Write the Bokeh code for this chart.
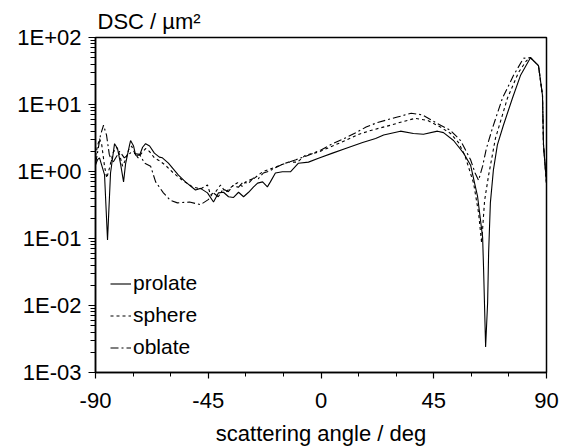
from bokeh.plotting import figure
from bokeh.models import Range1d, FixedTicker, CustomJSTickFormatter, Legend, LegendItem
from bokeh.embed import file_html
from bokeh.resources import INLINE

# ---- data (scattering angle in deg, DSC in um^2) ----
prolate_angle = [-90.0, -89.2, -88.4, -86.4, -85.2, -84.0, -82.4, -81.2, -80.0, -78.8, -78.0, -76.4,
                 -76.0, -74.8, -74.0, -72.4, -71.2, -70.0, -68.4, -66.5, -64.5, -63.3, -60.9, -56.9,
                 -54.1, -50.1, -48.1, -45.3, -42.9, -40.9, -38.9, -36.9, -34.9, -32.9, -30.9, -28.9,
                 -26.9, -25.3, -23.3, -21.4, -20.2, -18.2, -15.4, -12.2, -9.0, -5.0, -1.0, 4.6,
                 9.8, 16.6, 21.8, 25.0, 31.7, 36.9, 40.9, 46.5, 48.9, 52.9, 56.9, 59.7,
                 62.5, 64.5, 64.9, 65.7, 66.5, 66.9, 67.6, 68.8, 70.4, 72.8, 76.4, 79.6,
                 83.6, 86.8, 88.4, 88.8, 90.0]
prolate_dsc = [1.25, 1.5, 1.6, 0.9, 0.095, 0.95, 2.6, 2.2, 1.3, 0.70, 1.3, 2.5,
               2.9, 2.4, 1.75, 1.75, 2.3, 2.6, 2.4, 1.88, 1.64, 1.6, 1.33, 0.88,
               0.70, 0.53, 0.56, 0.48, 0.35, 0.48, 0.49, 0.42, 0.41, 0.49, 0.42, 0.49,
               0.59, 0.67, 0.70, 0.59, 0.70, 0.95, 0.99, 0.99, 1.33, 1.38, 1.58, 1.88,
               2.2, 2.7, 3.1, 3.5, 4.0, 3.7, 3.6, 4.0, 3.8, 2.9, 1.88, 1.24,
               0.42, 0.105, 0.034, 0.0024, 0.011, 0.061, 0.34, 1.05, 2.5, 4.9, 12.4, 27.0,
               50.0, 38.0, 13.7, 2.5, 0.67]

sphere_angle = [-90.0, -89.2, -88.4, -87.5, -86.4, -85.5, -84.5, -83.0, -81.6, -80.4, -79.2, -78.0,
                -76.8, -75.6, -74.4, -73.0, -71.5, -70.0, -68.5, -66.5, -64.5, -62.1, -58.9, -55.3,
                -51.3, -48.0, -45.3, -44.1, -42.0, -40.1, -38.1, -35.5, -33.3, -31.5, -30.1, -26.1,
                -23.3, -20.0, -16.2, -13.0, -9.4, -6.2, -1.0, 4.6, 9.8, 15.2, 19.8, 27.7,
                33.0, 37.5, 42.5, 47.7, 51.7, 54.9, 57.5, 60.9, 62.9, 64.1, 65.3, 66.9,
                69.6, 74.4, 78.8, 82.0, 83.6, 86.8, 88.4, 88.8, 90.0]
sphere_dsc = [1.7, 2.4, 3.1, 2.5, 1.2, 0.8, 1.1, 1.9, 2.3, 1.8, 1.2, 1.5,
              2.1, 2.4, 1.9, 1.6, 1.9, 2.2, 2.0, 1.6, 1.45, 1.24, 0.95, 0.74,
              0.59, 0.55, 0.63, 0.45, 0.50, 0.63, 0.49, 0.60, 0.68, 0.60, 0.70, 0.82,
              0.99, 1.1, 1.24, 1.38, 1.38, 1.75, 1.95, 2.4, 2.9, 3.6, 4.1, 4.9,
              5.6, 6.2, 5.8, 4.6, 3.7, 2.7, 1.7, 0.67, 0.24, 0.086, 0.37, 0.88,
              3.1, 12.4, 30.0, 45.0, 50.0, 38.0, 13.7, 2.5, 0.67]

oblate_angle = [-90.0, -89.2, -88.0, -86.8, -85.6, -84.5, -83.2, -81.5, -80.4, -78.5, -76.0, -72.4,
                -70.4, -68.0, -66.0, -62.9, -60.1, -57.3, -52.5, -48.1, -45.0, -43.0, -41.0, -39.0,
                -37.0, -35.0, -33.0, -31.0, -29.0, -27.0, -25.0, -23.0, -21.0, -18.0, -15.0, -10.0,
                -5.0, 0.0, 4.6, 10.0, 14.5, 18.0, 22.6, 30.5, 36.0, 40.5, 46.5, 51.7,
                55.7, 59.7, 61.5, 62.9, 64.5, 66.0, 68.4, 72.4, 76.8, 80.8, 83.6, 86.8,
                88.4, 88.8, 90.0]
oblate_dsc = [1.3, 1.9, 3.5, 4.9, 3.5, 1.8, 1.33, 1.7, 2.0, 1.6, 1.9, 1.8,
              1.33, 1.2, 0.70, 0.48, 0.37, 0.34, 0.35, 0.32, 0.38, 0.48, 0.42, 0.55,
              0.50, 0.62, 0.58, 0.70, 0.66, 0.80, 0.78, 0.95, 1.0, 1.15, 1.3, 1.5,
              1.75, 2.1, 2.6, 3.2, 3.9, 4.6, 5.4, 6.5, 7.4, 7.0, 5.2, 4.1,
              2.9, 1.5, 0.95, 0.74, 1.2, 2.2, 4.4, 12.4, 27.0, 49.0, 50.0, 38.0,
              13.7, 2.5, 0.67]

x_major = [-90, -45, 0, 45, 90]
x_minor = [-75, -60, -30, -15, 15, 30, 60, 75]
y_major = [1e-3, 1e-2, 1e-1, 1e0, 1e1, 1e2]
y_minor = [m * 10.0 ** k for k in range(-3, 2) for m in range(2, 10)]

FONT = "Liberation Sans"
FS = "22px"

p = figure(width=570, height=448, y_axis_type="log",
           x_range=Range1d(-90, 90), y_range=Range1d(1e-3, 1e2),
           output_backend="svg", toolbar_location=None,
           min_border_left=95, min_border_right=24, min_border_bottom=75, min_border_top=37)

p.title.text = "DSC / µm²"
p.title.text_font = FONT
p.title.text_font_size = FS
p.title.text_font_style = "normal"
p.title.text_color = "black"
p.title.align = "left"
p.title.offset = 2
p.title.standoff = 8

p.xgrid.visible = False
p.ygrid.visible = False
p.outline_line_color = "black"
p.outline_line_width = 1.5
p.background_fill_color = "white"
p.border_fill_color = "white"

xa = p.xaxis[0]
xa.ticker = FixedTicker(ticks=x_major, minor_ticks=x_minor)
xa.formatter = CustomJSTickFormatter(code="return tick.toFixed(0);")
xa.axis_label = "scattering angle / deg"

ya = p.yaxis[0]
ya.ticker = FixedTicker(ticks=y_major, minor_ticks=y_minor)
ya.formatter = CustomJSTickFormatter(code="""
const e = Math.round(Math.log10(tick));
const a = Math.abs(e);
return "1E" + (e < 0 ? "-" : "+") + (a < 10 ? "0" : "") + a;
""")

for ax in (xa, ya):
    ax.axis_line_color = "black"
    ax.axis_line_width = 1.5
    ax.major_tick_line_color = "black"
    ax.minor_tick_line_color = "black"
    ax.major_tick_line_width = 1.2
    ax.minor_tick_line_width = 1.0
    ax.major_tick_in = 0
    ax.minor_tick_in = 0
    ax.major_label_text_font = FONT
    ax.major_label_text_font_size = FS
    ax.major_label_text_color = "black"
    ax.axis_label_text_font = FONT
    ax.axis_label_text_font_size = FS
    ax.axis_label_text_font_style = "normal"
    ax.axis_label_text_color = "black"

xa.major_tick_out = 6
xa.minor_tick_out = 4
xa.major_label_standoff = 14
xa.axis_label_standoff = 10
ya.major_tick_out = 7
ya.minor_tick_out = 5
ya.major_label_standoff = 7

r1 = p.line(prolate_angle, prolate_dsc, line_color="black", line_width=1.1)
r2 = p.line(sphere_angle, sphere_dsc, line_color="black", line_width=1.1, line_dash="3 3")
r3 = p.line(oblate_angle, oblate_dsc, line_color="black", line_width=1.1, line_dash="8 3 2 3")

legend = Legend(items=[LegendItem(label="prolate", renderers=[r1]),
                       LegendItem(label="sphere", renderers=[r2]),
                       LegendItem(label="oblate", renderers=[r3])],
                location=(15, 13), padding=0, margin=0, spacing=8,
                glyph_width=21, glyph_height=21, label_height=21, label_standoff=2,
                label_text_font=FONT, label_text_font_size="21px", label_text_color="black",
                background_fill_alpha=0, border_line_alpha=0)
p.add_layout(legend)

open("out.html", "w").write(file_html(p, INLINE))
